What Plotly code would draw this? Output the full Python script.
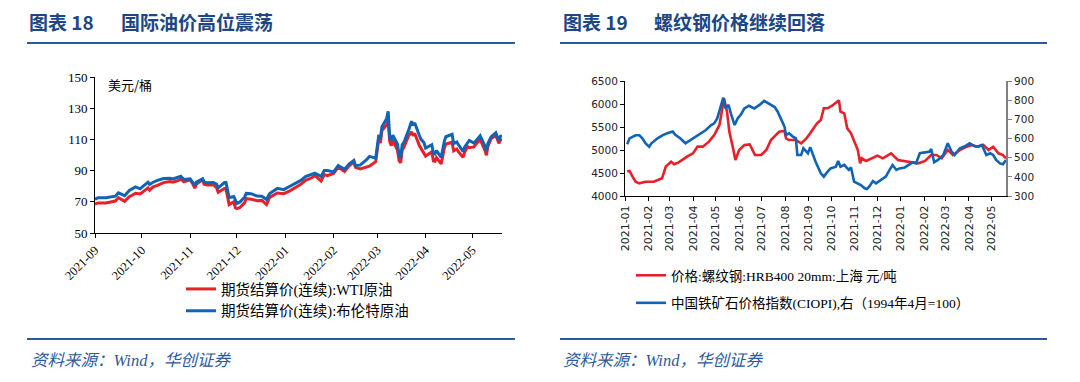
import plotly.graph_objects as go

# ---------------- Data: left chart (international oil prices, USD/bbl) ----------------
oil_dates = [
    "2021-09-01", "2021-09-03", "2021-09-08", "2021-09-10", "2021-09-14", "2021-09-16", "2021-09-20",
    "2021-09-23", "2021-09-27", "2021-09-30", "2021-10-01", "2021-10-05", "2021-10-06", "2021-10-08",
    "2021-10-11", "2021-10-15", "2021-10-19", "2021-10-21", "2021-10-25", "2021-10-26", "2021-10-28",
    "2021-11-01", "2021-11-03", "2021-11-04", "2021-11-05", "2021-11-09", "2021-11-10", "2021-11-12",
    "2021-11-16", "2021-11-18", "2021-11-19", "2021-11-23", "2021-11-24", "2021-11-26", "2021-11-29",
    "2021-11-30", "2021-12-01", "2021-12-03", "2021-12-06", "2021-12-07", "2021-12-10", "2021-12-14",
    "2021-12-17", "2021-12-20", "2021-12-22", "2021-12-27", "2021-12-31", "2022-01-04", "2022-01-07",
    "2022-01-11", "2022-01-14", "2022-01-18", "2022-01-20", "2022-01-24", "2022-01-26", "2022-01-28",
    "2022-02-01", "2022-02-04", "2022-02-08", "2022-02-11", "2022-02-14", "2022-02-15", "2022-02-18",
    "2022-02-22", "2022-02-24", "2022-02-28", "2022-03-01", "2022-03-02", "2022-03-03", "2022-03-04",
    "2022-03-07", "2022-03-08", "2022-03-09", "2022-03-10", "2022-03-11", "2022-03-14", "2022-03-15",
    "2022-03-16", "2022-03-17", "2022-03-18", "2022-03-21", "2022-03-23", "2022-03-24", "2022-03-25",
    "2022-03-28", "2022-03-29", "2022-03-31", "2022-04-01", "2022-04-05", "2022-04-06", "2022-04-07",
    "2022-04-08", "2022-04-11", "2022-04-12", "2022-04-13", "2022-04-14", "2022-04-18", "2022-04-19",
    "2022-04-21", "2022-04-22", "2022-04-25", "2022-04-26", "2022-04-28", "2022-04-29", "2022-05-02",
    "2022-05-04", "2022-05-06", "2022-05-09", "2022-05-10", "2022-05-11", "2022-05-13", "2022-05-16",
    "2022-05-17", "2022-05-18", "2022-05-19", "2022-05-20",
]
wti = [
    68.6, 69.3, 69.3, 69.7, 70.5, 72.6, 70.3,
    73.3, 75.5, 75.0, 75.9, 78.9, 77.4, 79.4,
    80.5, 82.3, 83.0, 82.5, 83.8, 84.7, 82.8,
    84.1, 80.9, 78.8, 81.3, 84.2, 81.3, 80.8,
    80.8, 79.0, 76.1, 78.5, 78.4, 68.2, 70.0,
    66.2, 65.6, 66.3, 69.5, 72.1, 71.7, 70.7,
    70.9, 68.2, 72.8, 75.6, 75.2, 77.0, 78.9,
    81.2, 83.8, 85.4, 86.9, 83.3, 87.4, 86.8,
    88.2, 92.3, 89.4, 93.1, 95.5, 92.1, 91.1,
    92.4, 92.8, 95.7, 103.4, 110.6, 107.7, 115.7,
    119.4, 121.5, 108.7, 106.0, 109.3, 103.0, 96.4,
    95.0, 103.0, 104.7, 112.1, 114.9, 112.3, 113.9,
    106.0, 104.2, 100.3, 99.3, 102.0, 96.2, 96.0,
    98.3, 94.3, 100.6, 104.3, 107.0, 108.2, 102.6,
    103.8, 102.1, 98.5, 101.7, 105.4, 104.7, 105.2,
    107.8, 109.8, 103.1, 99.8, 105.7, 110.5, 112.5,
    110.5, 107.5, 109.5, 110.3,
]
brent = [
    71.6, 72.6, 72.6, 72.9, 73.6, 75.7, 73.9,
    77.3, 79.5, 78.3, 79.3, 82.6, 81.1, 82.4,
    83.7, 84.9, 85.1, 84.6, 86.0, 86.4, 84.3,
    84.7, 82.0, 80.5, 82.7, 84.8, 82.6, 82.2,
    82.4, 81.2, 78.9, 82.3, 82.3, 72.7, 73.4,
    70.6, 68.9, 69.9, 73.1, 75.4, 75.2, 73.7,
    73.5, 71.5, 75.3, 78.6, 77.8, 80.0, 81.8,
    83.7, 86.1, 87.5, 88.4, 86.3, 90.0, 90.0,
    89.2, 93.3, 90.8, 94.4, 96.5, 93.3, 93.5,
    96.8, 99.1, 98.0, 105.0, 112.9, 110.5, 118.1,
    123.2, 128.0, 111.1, 109.3, 112.7, 106.9, 99.9,
    98.0, 106.6, 107.9, 115.6, 121.6, 119.0, 120.7,
    112.5, 110.2, 107.9, 104.4, 106.6, 101.1, 100.6,
    102.8, 98.5, 104.6, 108.8, 111.7, 113.2, 107.3,
    108.3, 106.7, 102.3, 105.0, 107.6, 109.3, 107.6,
    110.1, 112.4, 105.9, 102.5, 107.5, 111.6, 114.2,
    112.0, 109.1, 112.0, 112.5,
]

# ---------------- Data: right chart (rebar price, iron ore index) ----------------
rebar_dates = [
    "2021-01-04", "2021-01-07", "2021-01-11", "2021-01-15", "2021-01-20", "2021-01-28", "2021-02-08",
    "2021-02-19", "2021-02-24", "2021-02-26", "2021-03-03", "2021-03-07", "2021-03-13", "2021-03-24",
    "2021-04-01", "2021-04-07", "2021-04-14", "2021-04-22", "2021-04-29", "2021-05-06", "2021-05-10",
    "2021-05-12", "2021-05-16", "2021-05-19", "2021-05-24", "2021-05-27", "2021-06-01", "2021-06-08",
    "2021-06-15", "2021-06-19", "2021-06-22", "2021-06-30", "2021-07-07", "2021-07-13", "2021-07-20",
    "2021-07-24", "2021-07-31", "2021-08-02", "2021-08-06", "2021-08-15", "2021-08-22", "2021-08-29",
    "2021-09-03", "2021-09-08", "2021-09-12", "2021-09-17", "2021-09-21", "2021-09-26", "2021-10-02",
    "2021-10-11", "2021-10-13", "2021-10-18", "2021-10-22", "2021-10-27", "2021-10-31", "2021-11-05",
    "2021-11-08", "2021-11-10", "2021-11-16", "2021-11-23", "2021-12-01", "2021-12-08", "2021-12-19",
    "2021-12-28", "2022-01-06", "2022-01-15", "2022-01-24", "2022-02-02", "2022-02-10", "2022-02-17",
    "2022-02-24", "2022-03-04", "2022-03-11", "2022-03-20", "2022-03-29", "2022-04-05", "2022-04-13",
    "2022-04-20", "2022-04-27", "2022-05-03", "2022-05-10", "2022-05-16", "2022-05-20",
]
rebar = [
    4530, 4544, 4420, 4310, 4275, 4310, 4310,
    4385, 4640, 4674, 4746, 4690, 4732, 4855,
    4928, 5073, 5073, 5181, 5326, 5544, 5942,
    6123, 5833, 5399, 5036, 4783, 5000, 5109,
    5123, 5000, 4891, 4891, 5000, 5217, 5326,
    5399, 5413, 5254, 5217, 5217, 5145, 5254,
    5363, 5471, 5580, 5652, 5906, 5906, 5964,
    6080, 5833, 5797, 5471, 5363, 5181, 5000,
    4710, 4819, 4761, 4819, 4877, 4819, 4928,
    4783, 4761, 4732, 4710, 4761, 4891, 4891,
    4819, 5000, 4891, 5000, 5072, 5109, 5072,
    5109, 5000, 5072, 4928, 4891, 4819,
]
ciopi_dates = [
    "2021-01-04", "2021-01-07", "2021-01-15", "2021-01-20", "2021-01-24", "2021-01-28", "2021-02-02",
    "2021-02-05", "2021-02-13", "2021-02-20", "2021-02-26", "2021-03-05", "2021-03-09", "2021-03-15",
    "2021-03-22", "2021-03-29", "2021-04-05", "2021-04-11", "2021-04-18", "2021-04-25", "2021-04-29",
    "2021-05-03", "2021-05-08", "2021-05-11", "2021-05-14", "2021-05-18", "2021-05-21", "2021-05-26",
    "2021-05-30", "2021-06-03", "2021-06-08", "2021-06-14", "2021-06-21", "2021-06-28", "2021-07-04",
    "2021-07-11", "2021-07-18", "2021-07-22", "2021-07-26", "2021-07-31", "2021-08-02", "2021-08-06",
    "2021-08-11", "2021-08-15", "2021-08-17", "2021-08-22", "2021-08-25", "2021-08-31", "2021-09-03",
    "2021-09-10", "2021-09-17", "2021-09-21", "2021-09-26", "2021-09-30", "2021-10-07", "2021-10-10",
    "2021-10-13", "2021-10-18", "2021-10-24", "2021-10-27", "2021-10-31", "2021-11-05", "2021-11-09",
    "2021-11-14", "2021-11-17", "2021-11-20", "2021-11-25", "2021-11-29", "2021-12-06", "2021-12-12",
    "2021-12-17", "2021-12-21", "2021-12-26", "2021-12-30", "2022-01-06", "2022-01-12", "2022-01-17",
    "2022-01-21", "2022-01-26", "2022-02-04", "2022-02-08", "2022-02-10", "2022-02-14", "2022-02-19",
    "2022-02-26", "2022-03-04", "2022-03-09", "2022-03-13", "2022-03-20", "2022-03-26", "2022-04-02",
    "2022-04-09", "2022-04-13", "2022-04-18", "2022-04-24", "2022-04-29", "2022-05-03", "2022-05-07",
    "2022-05-12", "2022-05-16", "2022-05-20",
]
ciopi = [
    570, 601, 617, 617, 601, 575, 557,
    575, 601, 618, 627, 636, 618, 601,
    575, 592, 610, 627, 644, 670, 679,
    705, 775, 813, 757, 775, 731, 670,
    705, 723, 757, 771, 757, 775, 796,
    778, 764, 740, 705, 662, 618, 627,
    610, 601, 514, 514, 549, 523, 555,
    480, 418, 401, 427, 444, 453, 483,
    453, 462, 436, 449, 375, 366, 357,
    340, 336, 349, 378, 366, 383, 401,
    436, 462, 436, 444, 449, 462, 476,
    470, 523, 529, 532, 545, 476, 488,
    514, 575, 532, 514, 549, 558, 575,
    558, 558, 566, 514, 523, 514, 488,
    470, 466, 488,
]

# ---------------- Styling ----------------
RED = "#E8202A"
BLUE = "#1063B5"
NAVY = "#1D4783"
RULE = "#2C5A9B"
OFF = 8                       # page body margin of the html page
W, H = 1080 - 2 * OFF, 382 - 2 * OFF


def px(x):
    return (x - OFF) / W


def py(y):
    return 1 - (y - OFF) / H


fig = go.Figure()

fig.add_trace(go.Scatter(x=oil_dates, y=wti, mode="lines", name="期货结算价(连续):WTI原油",
                         line=dict(color=RED, width=3), xaxis="x", yaxis="y",
                         legend="legend", legendgroup="oil"))
fig.add_trace(go.Scatter(x=oil_dates, y=brent, mode="lines", name="期货结算价(连续):布伦特原油",
                         line=dict(color=BLUE, width=3), xaxis="x", yaxis="y",
                         legend="legend", legendgroup="oil"))
fig.add_trace(go.Scatter(x=rebar_dates, y=rebar, mode="lines", name="价格:螺纹钢:HRB400 20mm:上海 元/吨",
                         line=dict(color=RED, width=2.6), xaxis="x2", yaxis="y2",
                         legend="legend2", legendgroup="c"))
fig.add_trace(go.Scatter(x=ciopi_dates, y=ciopi, mode="lines",
                         name="中国铁矿石价格指数(CIOPI),右（1994年4月=100）",
                         line=dict(color=BLUE, width=2.6), xaxis="x2", yaxis="y3",
                         legend="legend2", legendgroup="d"))

SERIF = "Liberation Serif, Noto Sans CJK SC"
SANS = "DejaVu Sans"
axis_common = dict(showline=True, linecolor="#000000", linewidth=1, ticks="outside", ticklen=4,
                   tickcolor="#000000", showgrid=False, zeroline=False, automargin=False)

fig.update_layout(
    template="none",
    width=W, height=H, margin=dict(l=0, r=0, t=0, b=0, pad=0, autoexpand=False),
    paper_bgcolor="white", plot_bgcolor="white",
    xaxis=dict(domain=[px(95), px(502)], anchor="y", type="date",
               range=["2021-09-01", "2022-05-20"], tick0="2021-09-01", dtick="M1",
               tickformat="%Y-%m", tickangle=-45,
               tickfont=dict(family=SERIF, size=12.5, color="#000"), **axis_common),
    yaxis=dict(domain=[py(233), py(77)], anchor="x", range=[50, 150], tick0=50, dtick=20,
               tickfont=dict(family=SERIF, size=13, color="#000"), **axis_common),
    xaxis2=dict(domain=[px(625), px(1006)], anchor="y2", type="date",
                range=["2021-01-01", "2022-05-20"], tick0="2021-01-01", dtick="M1",
                tickformat="%Y-%m", tickangle=-90,
                tickfont=dict(family=SANS, size=11, color="#222"), **axis_common),
    yaxis2=dict(domain=[py(196), py(81)], anchor="x2", range=[4000, 6500], tick0=4000, dtick=500,
                tickfont=dict(family=SANS, size=10.5, color="#222"), **axis_common),
    yaxis3=dict(overlaying="y2", anchor="x2", side="right", range=[300, 900], tick0=300, dtick=100,
                showline=True, linecolor="#808080", linewidth=2, ticks="outside", ticklen=4,
                tickcolor="#808080", showgrid=False, zeroline=False, automargin=False,
                tickfont=dict(family=SANS, size=10.5, color="#222")),
    legend=dict(x=px(181), y=py(273), xanchor="left", yanchor="top", bgcolor="rgba(0,0,0,0)",
                font=dict(family=SERIF, size=14.5, color="#000"), tracegroupgap=0,
                itemwidth=30),
    legend2=dict(x=px(631), y=py(260), xanchor="left", yanchor="top", bgcolor="rgba(0,0,0,0)",
                 font=dict(family=SERIF, size=13.5, color="#000"), tracegroupgap=7,
                 itemwidth=30),
    showlegend=True,
    hovermode="x unified",
)

shapes = []
for x0, x1 in [(27, 515), (560, 1047)]:
    shapes.append(dict(type="line", xref="paper", yref="paper", x0=px(x0), x1=px(x1),
                       y0=py(43), y1=py(43), line=dict(color=RULE, width=2)))
    shapes.append(dict(type="line", xref="paper", yref="paper", x0=px(x0), x1=px(x1),
                       y0=py(339), y1=py(339), line=dict(color=RULE, width=2)))
fig.update_layout(shapes=shapes)

TITLE_FONT = dict(family="Noto Sans CJK SC", size=19, color=NAVY)
ann = [
    dict(text="<b>图表 18</b>", x=px(27), y=py(21)),
    dict(text="<b>国际油价高位震荡</b>", x=px(119), y=py(21)),
    dict(text="<b>图表 19</b>", x=px(561), y=py(21)),
    dict(text="<b>螺纹钢价格继续回落</b>", x=px(652), y=py(21)),
]
annotations = []
for a in ann:
    annotations.append(dict(text=a["text"], x=a["x"], y=a["y"], xref="paper", yref="paper",
                            xanchor="left", yanchor="middle", showarrow=False, font=TITLE_FONT))
for x0 in [29, 561]:
    annotations.append(dict(text="<i>资料来源：Wind，华创证券</i>", x=px(x0), y=py(360),
                            xref="paper", yref="paper", xanchor="left", yanchor="middle",
                            showarrow=False,
                            font=dict(family="Liberation Serif, Noto Sans CJK SC", size=16.5,
                                      color=RULE)))
annotations.append(dict(text="美元/桶", x=px(106), y=py(84), xref="paper", yref="paper",
                        xanchor="left", yanchor="middle", showarrow=False,
                        font=dict(family="Noto Sans CJK SC", size=13, color="#000")))
fig.update_layout(annotations=annotations)

fig.write_html("out.html")
